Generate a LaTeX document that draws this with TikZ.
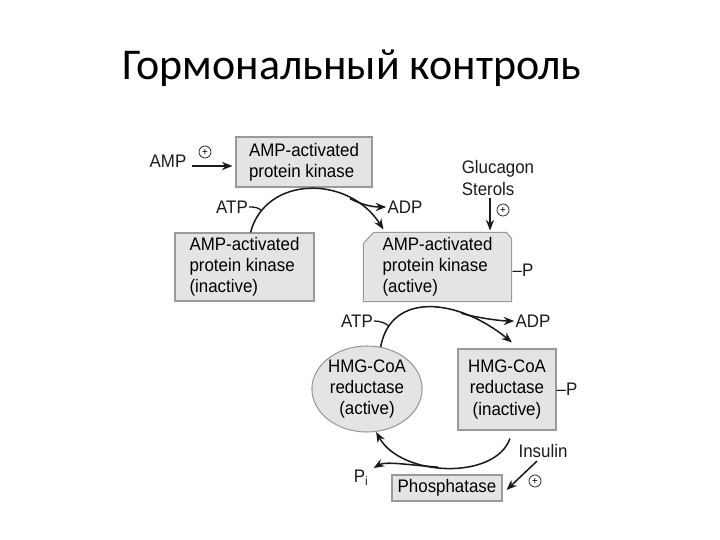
\documentclass[tikz,border=0pt]{standalone}
\usepackage{fontspec}
\setmainfont{Liberation Sans}[FakeStretch=0.93]
\newfontfamily\titlefont{Carlito}
\usepackage{tikz}
\usetikzlibrary{arrows.meta,positioning,calc,backgrounds,shapes.geometric}
\definecolor{boxfill}{HTML}{E4E4E4}
\definecolor{boxedge}{HTML}{999999}
\definecolor{ink}{HTML}{1A1A1A}

\begin{document}
\begin{tikzpicture}[x=0.03cm,y=-0.03cm,
  box/.style={draw=boxedge,fill=boxfill,line width=0.9pt,inner sep=0pt,
    font=\fontsize{15.5}{18}\selectfont,align=left},
  lbl/.style={ink,font=\fontsize{15.5}{18}\selectfont,inner sep=1pt},
  flow/.style={ink,line width=1.3pt,-{Stealth[length=9pt,width=7pt]}},
  tail/.style={ink,line width=1.1pt},
  plus/.style={circle,draw=ink,line width=0.6pt,minimum size=0.36cm,
    inner sep=0pt,font=\fontsize{9}{9}\selectfont}]
\useasboundingbox (0,0) rectangle (720,540);
\node[font=\titlefont\fontsize{37.5}{45}\selectfont] (title) at (352,68) {Гормональный контроль};
% kinase row
\node[lbl] (amp) at (168,161) {AMP};
\node[box,minimum width=4.08cm,minimum height=1.5cm] (ampk) at (304,162) {AMP-activated\\protein kinase};
\node[plus] (plusamp) at (205,152) {+};
\draw[flow] ($(amp.east)+(4,5)$) -- ($(ampk.west)+(-3,4)$);
\node[box,minimum width=4.17cm,minimum height=2.04cm] (akinact) at (244.5,267) {AMP-activated\\protein kinase\\(inactive)};
\node[box,draw=none,fill=none,minimum width=4.41cm,minimum height=2.04cm] (akact) at (437.5,267) {AMP-activated\\protein kinase\\(active)};
\begin{scope}[on background layer]
  \filldraw[draw=boxedge,fill=boxfill,line width=0.9pt]
    (akact.south west) -- ($(akact.north west)+(0,11)$) -- ($(akact.north west)+(10,0)$)
    -- ($(akact.north east)+(-5,0)$) -- ($(akact.north east)+(0,6)$) -- (akact.south east) -- cycle;
\end{scope}
\node[lbl] (p1) at (523,270) {–P};
\node[lbl,align=left] (gluc) at (498,178) {Glucagon\\Sterols};
\node[plus] (plusgluc) at (503,210) {+};
\draw[flow] ($(gluc.south)+(-8,1)$) -- ($(akact.north)+(52.5,-2)$);
% first cycle
\node[lbl] (atp1) at (232,207) {ATP};
\node[lbl] (adp1) at (405,207) {ADP};
\draw[flow] ($(akinact.north)+(6,0)$) .. controls +(15,-57) and +(-35,-55) .. ($(akact.north west)+(20,-3)$)
  coordinate[pos=0.15] (j1) coordinate[pos=0.75] (s1);
\draw[tail] (atp1.east) .. controls +(6,0) and +(-3,-3) .. (j1);
\draw[flow] (s1) .. controls +(12,6) and +(-14,0) .. (adp1.west);
% HMG-CoA row
\node[box,ellipse,minimum width=3.12cm,minimum height=2.58cm,align=center] (hmgact) at (367,389) {HMG-CoA\\reductase\\(active)};
\node[box,minimum width=2.94cm,minimum height=2.43cm,align=center] (hmginact) at (507,389.5) {HMG-CoA\\reductase\\(inactive)};
\node[lbl] (p2) at (567,389) {–P};
% second cycle
\node[lbl] (atp2) at (357,321) {ATP};
\node[lbl] (adp2) at (533,321) {ADP};
\draw[flow] (hmgact.72) .. controls +(10,-55) and +(-55,-45) .. ($(hmginact.north)+(5,-6)$)
  coordinate[pos=0.15] (j2) coordinate[pos=0.7] (s2);
\draw[tail] (atp2.east) .. controls +(6,0) and +(-3,-3) .. (j2);
\draw[flow] (s2) .. controls +(12,4) and +(-14,0) .. (adp2.west);
% dephosphorylation
\node[box,minimum width=3.3cm,minimum height=0.78cm] (phos) at (447,488) {Phosphatase};
\node[lbl] (pi) at (361,478) {P\textsubscript{i}};
\node[lbl] (ins) at (543,451) {Insulin};
\node[plus] (plusins) at (535,481) {+};
\draw[flow] ($(hmginact.south)+(3,8)$) .. controls +(-15,42) and +(25,45) .. (hmgact.-78)
  coordinate[pos=0.55] (s3);
\draw[flow] (s3) .. controls +(-28,-2) and +(12,-7) .. ($(pi.east)+(4,-10)$);
\draw[flow] ($(ins.south)+(-6,2)$) -- ($(phos.east)+(4,2)$);
\end{tikzpicture}
\end{document}
